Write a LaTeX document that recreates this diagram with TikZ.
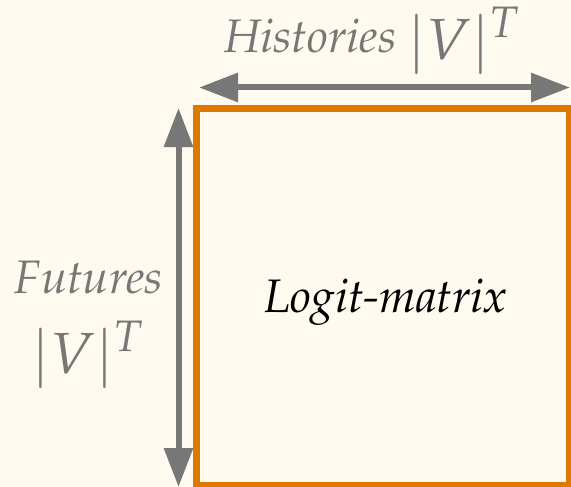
\documentclass[tikz,border=0pt]{standalone}
\usepackage[T1]{fontenc}
\usepackage{mathpazo}
\usetikzlibrary{arrows.meta}
\definecolor{bgcream}{RGB}{255,250,240}
\definecolor{dimgray}{RGB}{119,119,119}
\definecolor{matorange}{RGB}{222,121,0}
\newcommand{\bigmath}[1]{{\fontsize{58}{70}\selectfont$#1$}}
\tikzset{
  dimarrow/.style={draw=dimgray, line width=6pt, {Triangle[length=39pt,width=28pt]}-{Triangle[length=39pt,width=28pt]}},
  dimlabel/.style={text=dimgray, font=\fontsize{47}{56}\selectfont\itshape, align=center, inner sep=0pt},
  matrixbox/.style={draw=matorange, line width=6.5pt},
  mainlabel/.style={text=black, font=\fontsize{47}{56}\selectfont\itshape, inner sep=0pt}
}
\begin{document}
\begin{tikzpicture}[x=1pt,y=-1pt]
\fill[bgcream] (0,0) rectangle (571,487);
\useasboundingbox (0,0) rectangle (571,487);
\draw[matrixbox] (196.5,108.5) rectangle (569.5,485);
\coordinate (hl) at (199,87.5);
\coordinate (hr) at (570,87.5);
\coordinate (vt) at (178.5,108);
\coordinate (vb) at (178.5,487);
\draw[dimarrow] (hl) -- (hr);
\draw[dimarrow] (vt) -- (vb);
\node[dimlabel, anchor=base] (hist) at (372,53) {Histories \raisebox{-6pt}{\bigmath{|V|^T}}};
\node[dimlabel, anchor=base] (fut) at (89,293) {Futures};
\node[dimlabel, anchor=base] (futv) at (88,373) {\bigmath{|V|^T}};
\node[mainlabel, anchor=base] (logit) at (386,312) {Logit-matrix};
\end{tikzpicture}
\end{document}
